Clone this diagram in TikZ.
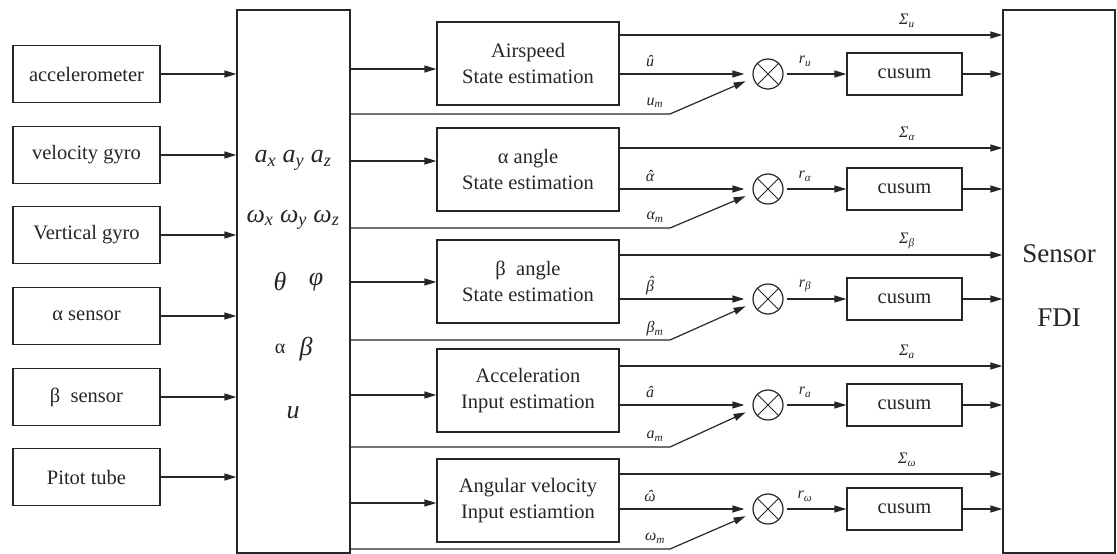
\documentclass[tikz,border=0pt]{standalone}
\usepackage{fontspec}
\setmainfont{Liberation Serif}
\newfontfamily\tr{Liberation Serif}
\usetikzlibrary{arrows.meta}
\newcommand\ha[1]{\accent"02C6 #1}
\begin{document}
\begin{tikzpicture}[x=1pt,y=-1pt,
  ln/.style={line width=1.2pt, draw=black!85},
  sbox/.style={ln, draw, align=center, inner sep=0pt, text=black!85,
     font=\tr\fontsize{20.5}{26}\selectfont},
  arr/.style={ln, -{Triangle[length=12pt,width=7pt]}},
  xo/.style={ln, draw, circle, minimum size=30pt, inner sep=0pt},
  sm/.style={inner sep=0pt, text=black!85, font=\tr\fontsize{16}{16}\selectfont\itshape},
  mth/.style={inner sep=1pt, text=black!85, font=\tr\fontsize{26}{28}\selectfont\itshape}]
\useasboundingbox (0,0) rectangle (1117,554);

% input sensor boxes
\node[sbox, minimum width=147pt, minimum height=57pt] (acc) at (86.5,74) {accelerometer};
\node[sbox, minimum width=147pt, minimum height=57pt] (vel) at (86.5,155) {velocity gyro};
\node[sbox, minimum width=147pt, minimum height=57pt] (ver) at (86.5,235) {Vertical gyro};
\node[sbox, minimum width=147pt, minimum height=57pt] (als) at (86.5,316) {α sensor};
\node[sbox, minimum width=147pt, minimum height=57pt] (bes) at (86.5,397) {β\ \ sensor};
\node[sbox, minimum width=147pt, minimum height=57pt] (pit) at (86.5,477) {Pitot tube};

% big middle box and FDI box
\node[sbox, minimum width=113pt, minimum height=543pt] (big) at (293.5,281.5) {};
\node[sbox, minimum width=112pt, minimum height=543pt] (fdi) at (1059,281.5) {};
\node[inner sep=0pt, text=black!85, font=\tr\fontsize{27}{29}\selectfont] (sen) at (1059,254) {Sensor};
\node[inner sep=0pt, text=black!85, font=\tr\fontsize{27}{29}\selectfont] (fdit) at (1059,318) {FDI};

\foreach \s in {acc,vel,ver,als,bes,pit}
  \draw[arr] (\s.east) -- (big.west |- \s);

% quantities in the middle box
\node[mth] (q1) at (293,160) {a\textsubscript{x} a\textsubscript{y} a\textsubscript{z}};
\node[mth] (q2) at (293,220) {ω\textsubscript{x} ω\textsubscript{y} ω\textsubscript{z}};
\node[mth] (q3) at (280,282) {θ};
\node[mth] (q4) at (316,282) {φ};
\node[inner sep=1pt, text=black!85, font=\tr\fontsize{20}{22}\selectfont] (q5) at (280,349) {α};
\node[mth] (q6) at (306,349) {β};
\node[mth] (q7) at (293,413) {u};

% estimation rows
\foreach \i/\ec/\iy/\sy/\hy/\my/\txt/\sg/\hh/\rs/\ms in {
  1/63.5/69/35/74/114/{Airspeed\\State estimation}/u/{\ha u}/u/u,
  2/169.5/161/148/189/228/{α angle\\State estimation}/α/{\ha α}/α/α,
  3/281.5/282/255/299/340/{β\ \ angle\\State estimation}/β/{\ha β}/β/β,
  4/390.5/395/366/405/447/{Acceleration\\Input estimation}/a/{\ha a}/a/a,
  5/500.5/503/474/509/549/{Angular velocity\\Input estiamtion}/ω/{\ha ω}/ω/ω}
{
  \node[sbox, minimum width=182pt, minimum height=83pt] (e\i) at (528,\ec) {\txt};
  \draw[arr] (big.east |- 0,\iy) -- (e\i.west |- 0,\iy);
  \node[xo] (x\i) at (768,\hy) {};
  \draw[ln, line width=1pt] (x\i.45) -- (x\i.225) (x\i.135) -- (x\i.315);
  \node[sbox, minimum width=115pt, minimum height=42pt] (c\i) at (904.5,\hy) {cusum};
  \draw[arr] (e\i.east |- 0,\sy) -- (fdi.west |- 0,\sy);
  \draw[arr, shorten >=8pt] (e\i.east |- x\i) -- (x\i.west);
  \draw[arr, shorten <=3pt] (x\i.east) -- (c\i.west);
  \draw[arr] (c\i.east) -- (fdi.west |- c\i);
  \coordinate (k\i) at (670,\my);
  \draw[arr, shorten >=8pt] (big.east |- k\i) -- (k\i) -- (x\i.195);
  \node[sm] (ls\i) at (907,\sy-14) {Σ\textsubscript{\sg}};
  \node[sm] (lh\i) at (650,\hy-13) {\hh};
  \node[sm] (lr\i) at (805,\hy-13) {r\textsubscript{\rs}};
  \node[sm] (lm\i) at (655,\my-11) {\ms\textsubscript{m}};
}
\end{tikzpicture}
\end{document}
